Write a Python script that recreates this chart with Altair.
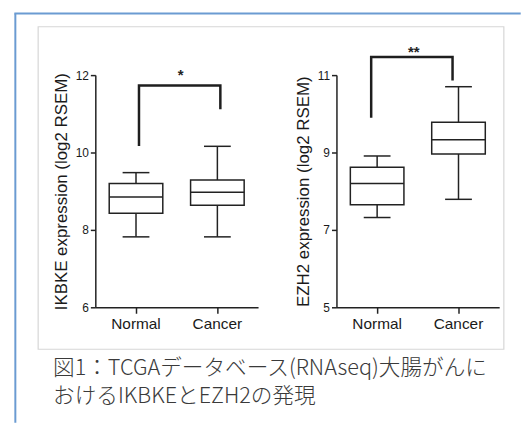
import altair as alt
import pandas as pd

# ---------------- data ----------------
groups = ["Normal", "Cancer"]

ikbke_lower = [7.82, 7.82]
ikbke_q1 = [8.43, 8.64]
ikbke_median = [8.85, 8.97]
ikbke_q3 = [9.20, 9.29]
ikbke_upper = [9.48, 10.16]

ezh2_lower = [7.32, 7.79]
ezh2_q1 = [7.65, 8.96]
ezh2_median = [8.20, 9.33]
ezh2_q3 = [8.62, 9.78]
ezh2_upper = [8.91, 10.70]

bracket_groups = ["Normal", "Normal", "Cancer", "Cancer"]
ikbke_bracket = [10.20, 11.73, 11.73, 11.15]
ezh2_bracket = [9.93, 11.47, 11.47, 10.89]

ikbke_sig = "*"
ikbke_sig_y = 12.09
ezh2_sig = "**"
ezh2_sig_y = 11.66

ikbke_ticks = [6, 8, 10, 12]
ezh2_ticks = [5, 7, 9, 11]

ikbke_title = "IKBKE expression (log2 RSEM)"
ezh2_title = "EZH2 expression (log2 RSEM)"

caption_lines = ["図1：TCGAデータベース(RNAseq)大腸がんに", "おけるIKBKEとEZH2の発現"]

DARK = "#222222"
TEXT = "#1a1a1a"
FONT = "Liberation Sans"
W, H = 164, 234


def box_df(lo, q1, med, q3, up):
    return pd.DataFrame({"group": groups, "lower": lo, "q1": q1,
                         "median": med, "q3": q3, "upper": up})


def panel(df, bracket_vals, sig, sig_y, ticks, title, br_off, sig_off, extra=None, post=None):
    xs = alt.Scale(domain=groups, paddingInner=0, paddingOuter=0)
    xaxis = alt.Axis(title=None, labelAngle=0, labelFontSize=15.5, labelPadding=3,
                     tickSize=6, labelFont=FONT, labelColor=TEXT)
    ys = alt.Scale(domain=[ticks[0], ticks[-1]], zero=False, nice=False)
    yaxis = alt.Axis(title=title, values=ticks, labelFontSize=12, tickSize=5,
                     labelPadding=2, labelFont=FONT, titleFont=FONT,
                     labelColor=TEXT, titleColor=TEXT,
                     titleFontSize=17, titlePadding=5, titleFontWeight="normal")

    def X(bp=None):
        if bp is None:
            return alt.X("group:N", scale=xs, axis=xaxis, sort=groups)
        return alt.X("group:N", scale=xs, axis=xaxis, sort=groups, bandPosition=bp)

    def Y(field):
        return alt.Y(field, scale=ys, axis=yaxis)

    base = alt.Chart(df)
    whisk = base.mark_rule(color=DARK, strokeWidth=1.5).encode(
        x=X(), y=Y("lower:Q"), y2="upper:Q")
    box = base.mark_bar(size=54, fill="white", stroke=DARK, strokeWidth=1.5).encode(
        x=X(), y=Y("q1:Q"), y2="q3:Q")
    med = base.mark_tick(size=54, thickness=1.5, color=DARK, opacity=1).encode(
        x=X(), y=Y("median:Q"))
    cap_lo = base.mark_tick(size=27, thickness=1.5, color=DARK, opacity=1).encode(
        x=X(), y=Y("lower:Q"))
    cap_hi = base.mark_tick(size=27, thickness=1.5, color=DARK, opacity=1).encode(
        x=X(), y=Y("upper:Q"))

    br = pd.DataFrame({"group": bracket_groups, "value": bracket_vals,
                       "step": [0, 1, 2, 3]})
    bracket = alt.Chart(br).mark_line(color="#1e1e1e", strokeWidth=2.5,
                                      xOffset=br_off, strokeCap="square").encode(
        x=X(), y=Y("value:Q"), order="step:O")

    sdf = pd.DataFrame({"group": ["Cancer"], "value": [sig_y], "label": [sig]})
    star = alt.Chart(sdf).mark_text(font=FONT, fontSize=15,
                                    fontWeight="bold", color="#222222",
                                    baseline="alphabetic", dy=8, dx=sig_off).encode(
        x=X(0), y=Y("value:Q"), text="label:N")

    layers = []
    if extra is not None:
        layers += extra
    layers += [whisk, box, med, cap_lo, cap_hi, bracket, star]
    if post is not None:
        layers += post
    return alt.layer(*layers).properties(width=W, height=H)


one = alt.Data(values=[{"k": 0}])
# decorative frame (blue page border and grey figure box), relative to left plot
blue_v = alt.Chart(one).mark_rule(color="#6b9bd2", strokeWidth=2).encode(
    x=alt.value(-80.6), y=alt.value(-62), y2=alt.value(350.3))
blue_h = alt.Chart(one).mark_rule(color="#6b9bd2", strokeWidth=2).encode(
    x=alt.value(-81.6), x2=alt.value(428.7), y=alt.value(-62))
grey_box = alt.Chart(one).mark_rect(fillOpacity=0, stroke="#d6d6d6", strokeWidth=1.2).encode(
    x=alt.value(-57.6), x2=alt.value(411.7), y=alt.value(-48.7), y2=alt.value(276.3))

cap1 = alt.Chart(pd.DataFrame({"t": [caption_lines[0]]})).mark_text(
    font="Noto Sans CJK JP", fontSize=21.8, fontWeight=300, color="#3a3a3a",
    align="left", baseline="alphabetic").encode(
    x=alt.value(-42.6), y=alt.value(302.4), text="t:N")
cap2 = alt.Chart(pd.DataFrame({"t": [caption_lines[1]]})).mark_text(
    font="Noto Sans CJK JP", fontSize=21.8, fontWeight=300, color="#3a3a3a",
    align="left", baseline="alphabetic").encode(
    x=alt.value(-42.6), y=alt.value(330.9), text="t:N")

left = panel(box_df(ikbke_lower, ikbke_q1, ikbke_median, ikbke_q3, ikbke_upper),
             ikbke_bracket, ikbke_sig, ikbke_sig_y, ikbke_ticks, ikbke_title,
             br_off=3, sig_off=4, extra=[blue_v, blue_h, grey_box], post=[cap1, cap2])

right = panel(box_df(ezh2_lower, ezh2_q1, ezh2_median, ezh2_q3, ezh2_upper),
              ezh2_bracket, ezh2_sig, ezh2_sig_y, ezh2_ticks, ezh2_title,
              br_off=-6, sig_off=-4)

chart = alt.hconcat(left, right, spacing=79, bounds="flush").properties(
    padding={"left": 4, "top": 2, "right": 0, "bottom": 0},
    background="white",
).configure_view(stroke="transparent").configure_axis(
    grid=False, domainColor=DARK, domainWidth=1.5, tickColor=DARK, tickWidth=1.5)

chart.save("out.html", embed_options={"renderer": "svg", "actions": False})
